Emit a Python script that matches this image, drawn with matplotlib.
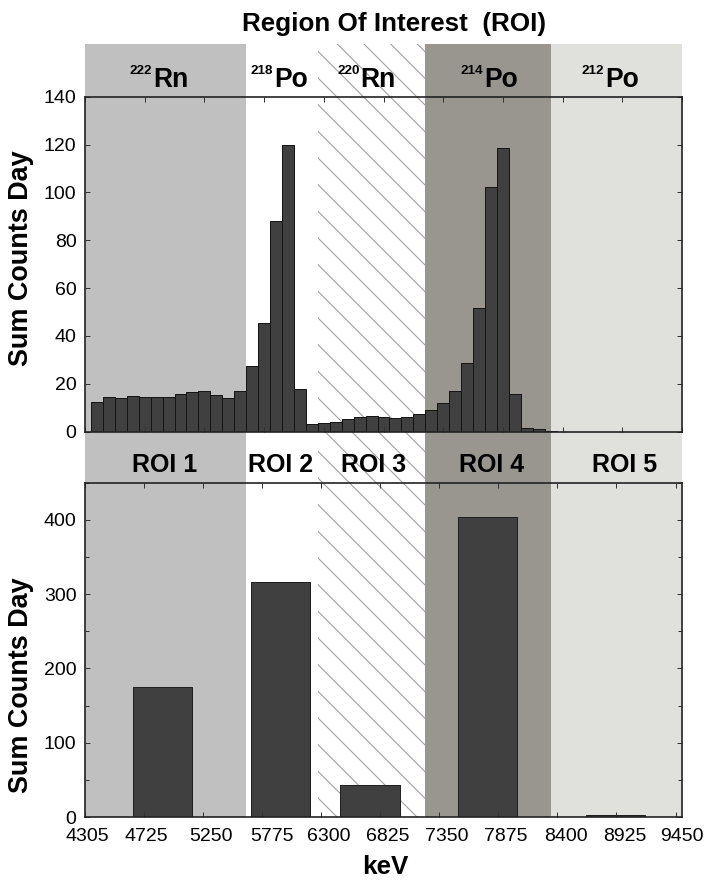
import numpy as np
import matplotlib
matplotlib.use("Agg")
import matplotlib.pyplot as plt
from matplotlib import transforms
from matplotlib.ticker import MultipleLocator

plt.rcParams['font.family'] = ['Liberation Sans', 'DejaVu Sans']

# ---------------- data ----------------
# spectrum: counts per energy bin (bins of 105 keV)
bin_counts = [12.5, 14.3, 13.9, 14.9, 14.3, 14.3, 14.3, 15.6, 16.4, 17.1, 15.3, 13.9, 17.1,
              27.4, 45.5, 87.9, 120.0, 17.7, 3.1,
              3.8, 4.2, 5.2, 6.0, 6.7, 6.3, 5.6, 6.3, 7.2,
              9.1, 12.1, 17.0, 28.6, 51.5, 102.4, 118.7, 15.6, 1.7, 1.0, 0.4]

roi_labels = ['ROI 1', 'ROI 2', 'ROI 3', 'ROI 4', 'ROI 5']
iso_mass = ['222', '218', '220', '214', '212']
iso_symbol = ['Rn', 'Po', 'Rn', 'Po', 'Po']
roi_edges = [0, 13.5, 19.5, 28.5, 39, 50]          # region limits in bin units
roi_sums = [175, 316, 43, 404, 3]
roi_bar_center = [6.53, 16.53, 24.13, 34.1, 44.9]

x_tick_labels = ['4305', '4725', '5250', '5775', '6300', '6825',
                 '7350', '7875', '8400', '8925', '9450']

# ---------------- layout ----------------
DPI = 160
W, H = 715, 882
def fx(p):
    return p / W
def fy(p):
    return 1 - p / H
def pt(p):
    return p * 72.0 / DPI

L, R = 85, 682
TOP_T, TOP_B = 96.7, 431.7
BOT_T, BOT_B = 482.7, 817.0
BAND_T = 44.3

region_colors = ['#c0c0c0', '#ffffff', '#ffffff', '#99958f', '#e0e0dd']
region_hatch = [None, None, '\\\\', None, None]
bar_color = '#404040'

plt.rcParams['hatch.linewidth'] = 0.45

fig = plt.figure(figsize=(W / DPI, H / DPI), dpi=DPI)
fig.patch.set_facecolor('white')

# background axes with the shaded regions (spanning bands and both panels)
bg = fig.add_axes([fx(L), fy(BOT_B), fx(R - L), (BOT_B - BAND_T) / H], zorder=0)
bg.set_xlim(0, 50)
bg.set_ylim(0, 1)
bg.axis('off')
for i in range(5):
    h = region_hatch[i]
    bg.axvspan(roi_edges[i], roi_edges[i + 1], facecolor=region_colors[i],
               edgecolor='#999999' if h else 'none', hatch=h, linewidth=0)

# ---------------- top panel ----------------
ax1 = fig.add_axes([fx(L), fy(TOP_B), fx(R - L), (TOP_B - TOP_T) / H], zorder=2)
ax1.set_facecolor('none')
centers = np.arange(1, len(bin_counts) + 1)
ax1.bar(centers, bin_counts, width=1.0, color=bar_color, edgecolor='#151515',
        linewidth=0.45)
ax1.set_xlim(0, 50)
ax1.set_ylim(0, 140)
ax1.set_yticks(np.arange(0, 141, 20))
ax1.set_xticks(np.arange(0, 51, 5))
ax1.set_xticklabels([])

# ---------------- bottom panel ----------------
ax2 = fig.add_axes([fx(L), fy(BOT_B), fx(R - L), (BOT_B - BOT_T) / H], zorder=2)
ax2.set_facecolor('none')
ax2.bar(roi_bar_center, roi_sums, width=5.0, color=bar_color, edgecolor='#202020',
        linewidth=0.45)
ax2.set_xlim(0, 50)
ax2.set_ylim(0, 450)
ax2.set_yticks(np.arange(0, 401, 100))
ax2.yaxis.set_minor_locator(MultipleLocator(50))
ax2.set_xticks(np.arange(0, 51, 5))
ax2.set_xticklabels([])
# labels sit slightly right of the tick marks in the original
label_pos = [0.21, 5.23, 10.68, 15.83, 20.6, 25.67, 30.64, 35.66, 40.69, 45.71, 50.55]
ax2.set_xticks(label_pos, minor=True)
ax2.set_xticklabels(x_tick_labels, minor=True)

for ax in (ax1, ax2):
    for s in ax.spines.values():
        s.set_linewidth(0.75)
        s.set_color('#222222')
    ax.tick_params(which='major', direction='in', top=True, right=True,
                   length=pt(5), width=0.45, labelsize=pt(19.5), pad=pt(8.5),
                   color='#333333')
    ax.tick_params(which='minor', axis='y', direction='in', left=True, right=True,
                   length=pt(4), width=0.45, color='#333333')
ax2.tick_params(which='minor', axis='x', length=0, labelsize=pt(19.5), pad=pt(11),
                top=False, bottom=True)

# ---------------- text ----------------
fs_lab = pt(27)
fig.text(fx(21), fy(258.5), 'Sum Counts Day', rotation=90, ha='center', va='center',
         fontsize=fs_lab, fontweight='bold')
fig.text(fx(21), fy(685), 'Sum Counts Day', rotation=90, ha='center', va='center',
         fontsize=fs_lab, fontweight='bold')
fig.text(fx(385), fy(874), 'keV', ha='center', va='baseline', fontsize=pt(26),
         fontweight='bold')

fig.text(fx(394), fy(31), 'Region Of Interest  (ROI)', ha='center', va='baseline',
         fontsize=pt(26), fontweight='bold')

trans = transforms.blended_transform_factory(bg.transData, fig.transFigure)
iso_split_x = [5.69, 15.83, 23.03, 33.37, 43.51]
for i in range(5):
    bg.text(iso_split_x[i] + 0.05, fy(87.3), iso_symbol[i], transform=trans,
            ha='left', va='baseline', fontsize=pt(26.5), fontweight='bold')
    bg.text(iso_split_x[i] - 0.05, fy(64.5), iso_mass[i], transform=trans,
            ha='right', va='top', fontsize=pt(13.5), fontweight='bold')

roi_label_x = [6.68, 16.4, 24.16, 34.09, 45.2]
for i in range(5):
    bg.text(roi_label_x[i], fy(471.7), roi_labels[i], transform=trans,
            ha='center', va='baseline', fontsize=pt(25), fontweight='bold')

fig.savefig('out.png', dpi=DPI)
